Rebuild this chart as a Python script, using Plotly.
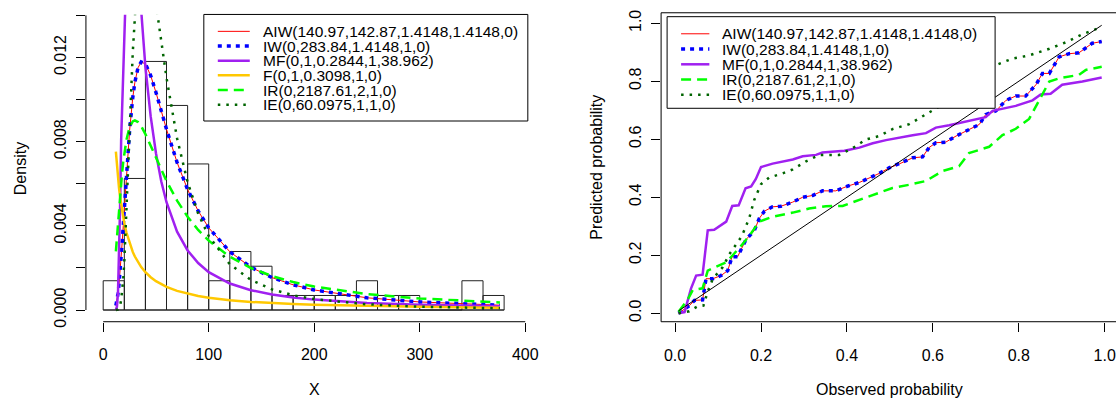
import plotly.graph_objects as go

W, H = 1116, 403
FONT = "Liberation Sans, Arial, sans-serif"

# ---------------- Left panel data ----------------
bin_edges = [0, 20, 40, 60, 80, 100, 120, 140, 160, 180, 200, 220, 240, 260, 280, 300, 320, 340, 360, 380]
hist_density = [0.00139, 0.00625, 0.01181, 0.00972, 0.00694, 0.00139, 0.00278, 0.00208, 0.00069, 0.00069,
                 0.00069, 0.00069, 0.00139, 0.00069, 0.00069, 0.0, 0.0, 0.00139, 0.00069]

x_grid = [12, 13, 14, 15, 16, 17, 18, 19, 20, 22, 25, 28, 30, 33, 36, 40, 45, 50, 55, 60, 70, 80, 90, 100,
          120, 140, 160, 180, 200, 250, 300, 350, 376]
dens_aiw = [0.000215, 0.000438, 0.000775, 0.001236, 0.001806, 0.002474, 0.003217, 0.004008, 0.004821, 0.006416,
            0.008523, 0.010090, 0.010820, 0.011514, 0.011782, 0.011696, 0.011140, 0.010340, 0.009461, 0.008590,
            0.007014, 0.005727, 0.004709, 0.003905, 0.002767, 0.002032, 0.001540, 0.001197, 0.000952, 0.000580,
            0.000383, 0.000269, 0.000228]
dens_iw = [0.000215, 0.000438, 0.000775, 0.001236, 0.001806, 0.002474, 0.003217, 0.004008, 0.004821, 0.006416,
           0.008523, 0.010090, 0.010820, 0.011514, 0.011782, 0.011696, 0.011140, 0.010340, 0.009461, 0.008590,
           0.007014, 0.005727, 0.004709, 0.003905, 0.002767, 0.002032, 0.001540, 0.001197, 0.000952, 0.000580,
           0.000383, 0.000269, 0.000228]
dens_mf = [0.00001, 0.000156, 0.00081, 0.00238, 0.00492, 0.00806, 0.01132, 0.01430, 0.01676, 0.01988,
           0.02092, 0.01963, 0.01826, 0.01603, 0.01394, 0.01154, 0.00920, 0.00745, 0.00612, 0.00512,
           0.00372, 0.00283, 0.00223, 0.00180, 0.00126, 0.00094, 0.000735, 0.000594, 0.000493, 0.000336,
           0.000248, 0.000193, 0.000173]
dens_f = [0.00752, 0.006854, 0.006284, 0.005795, 0.005371, 0.005000, 0.004673, 0.004383, 0.004125, 0.003681,
          0.00316, 0.00276, 0.00254, 0.002265, 0.002039, 0.001795, 0.001556, 0.001369, 0.001219, 0.001096,
          0.000908, 0.00077, 0.000666, 0.000585, 0.000467, 0.000385, 0.000326, 0.000282, 0.000247, 0.000187,
          0.000149, 0.000122, 0.000112]
dens_ir = [0.00279, 0.003491, 0.004192, 0.00486, 0.005487, 0.006062, 0.006579, 0.007043, 0.007445, 0.008083,
           0.008688, 0.00896, 0.009007, 0.008929, 0.008735, 0.00836, 0.007806, 0.007227, 0.006662, 0.006131,
           0.005198, 0.00443, 0.003805, 0.003295, 0.002529, 0.001996, 0.001612, 0.001328, 0.001112, 0.000756,
           0.000547, 0.000413, 0.000362]
dens_ie = [0.0, 0.000005, 0.000023, 0.000078, 0.000208, 0.00046, 0.000877, 0.00149, 0.002305, 0.004475,
           0.008456, 0.012238, 0.014254, 0.01633, 0.01734, 0.01742, 0.0163, 0.01459, 0.01276, 0.011032,
           0.008163, 0.006071, 0.004581, 0.003516, 0.002175, 0.001426, 0.000981, 0.000701, 0.000518, 0.00027,
           0.000158, 0.0001, 0.000081]

# ---------------- Right panel data (P-P plot) ----------------
pp_x_aiw = [0.008, 0.020, 0.033, 0.045, 0.064, 0.072, 0.088, 0.107, 0.1225, 0.1326, 0.1456, 0.165, 0.184, 0.196,
            0.208, 0.227, 0.2465, 0.2735, 0.297, 0.320, 0.343, 0.374, 0.401, 0.429, 0.452, 0.475, 0.498, 0.522,
            0.553, 0.576, 0.591, 0.607, 0.630, 0.654, 0.708, 0.723, 0.747, 0.770, 0.793, 0.816, 0.840, 0.855,
            0.871, 0.894, 0.917, 0.940, 0.971, 0.993]
pp_y_aiw = [0.0, 0.012, 0.026, 0.044, 0.046, 0.119, 0.119, 0.130, 0.147, 0.195, 0.195, 0.254, 0.284, 0.327,
            0.352, 0.367, 0.369, 0.383, 0.400, 0.406, 0.422, 0.422, 0.438, 0.451, 0.466, 0.482, 0.501, 0.515,
            0.536, 0.539, 0.571, 0.588, 0.590, 0.611, 0.651, 0.685, 0.698, 0.734, 0.749, 0.749, 0.788, 0.827,
            0.827, 0.884, 0.895, 0.898, 0.931, 0.937]
pp_x_iw = pp_x_aiw
pp_y_iw = pp_y_aiw
pp_x_mf = [0.008, 0.022, 0.037, 0.049, 0.064, 0.076, 0.091, 0.119, 0.133, 0.148, 0.164, 0.177, 0.188, 0.200,
           0.227, 0.250, 0.274, 0.297, 0.328, 0.343, 0.394, 0.429, 0.460, 0.491, 0.522, 0.553, 0.584, 0.607,
           0.638, 0.661, 0.708, 0.723, 0.739, 0.793, 0.832, 0.851, 0.874, 0.901, 0.948, 0.979, 0.993]
pp_y_mf = [0.0, 0.004, 0.085, 0.130, 0.133, 0.286, 0.288, 0.316, 0.370, 0.372, 0.431, 0.437, 0.463, 0.504,
           0.516, 0.524, 0.530, 0.541, 0.546, 0.554, 0.560, 0.571, 0.586, 0.597, 0.606, 0.614, 0.621, 0.640,
           0.648, 0.656, 0.670, 0.676, 0.698, 0.715, 0.734, 0.754, 0.757, 0.788, 0.799, 0.810, 0.813]
pp_x_ir = [0.008, 0.029, 0.041, 0.064, 0.076, 0.095, 0.119, 0.134, 0.157, 0.177, 0.196, 0.227, 0.274, 0.312,
           0.351, 0.390, 0.429, 0.467, 0.506, 0.545, 0.584, 0.622, 0.661, 0.684, 0.731, 0.762, 0.793, 0.824,
           0.847, 0.871, 0.894, 0.940, 0.956, 0.993]
pp_y_ir = [0.005, 0.046, 0.080, 0.086, 0.147, 0.159, 0.176, 0.200, 0.238, 0.276, 0.316, 0.333, 0.347, 0.361,
           0.369, 0.370, 0.390, 0.410, 0.432, 0.443, 0.456, 0.490, 0.507, 0.552, 0.574, 0.614, 0.636, 0.670,
           0.732, 0.799, 0.810, 0.822, 0.839, 0.850]
pp_x_ie = [0.008, 0.033, 0.053, 0.066, 0.076, 0.088, 0.111, 0.126, 0.142, 0.155, 0.165, 0.173, 0.184, 0.192,
           0.200, 0.219, 0.250, 0.274, 0.305, 0.336, 0.382, 0.413, 0.444, 0.475, 0.506, 0.545, 0.584, 0.630,
           0.661, 0.700, 0.731, 0.747, 0.785, 0.824, 0.871, 0.909, 0.948, 0.979, 0.993]
pp_y_ie = [0.0, 0.007, 0.024, 0.026, 0.075, 0.119, 0.159, 0.203, 0.237, 0.265, 0.300, 0.330, 0.390, 0.420,
           0.445, 0.468, 0.482, 0.496, 0.524, 0.546, 0.546, 0.569, 0.599, 0.611, 0.635, 0.652, 0.686, 0.726,
           0.766, 0.794, 0.827, 0.856, 0.878, 0.889, 0.912, 0.934, 0.962, 0.979, 0.987]

labels_left = ["AIW(140.97,142.87,1.4148,1.4148,0)", "IW(0,283.84,1.4148,1,0)", "MF(0,1,0.2844,1,38.962)",
               "F(0,1,0.3098,1,0)", "IR(0,2187.61,2,1,0)", "IE(0,60.0975,1,1,0)"]
labels_right = ["AIW(140.97,142.87,1.4148,1.4148,0)", "IW(0,283.84,1.4148,1,0)", "MF(0,1,0.2844,1,38.962)",
                "IR(0,2187.61,2,1,0)", "IE(0,60.0975,1,1,0)"]

left_xticks = [0, 100, 200, 300, 400]
left_yticks = [0.0, 0.002, 0.004, 0.006, 0.008, 0.010, 0.012, 0.014]
left_ytext = ["0.000", "", "0.004", "", "0.008", "", "0.012", ""]
right_ticks = [0.0, 0.2, 0.4, 0.6, 0.8, 1.0]
right_ticktext = ["0.0", "0.2", "0.4", "0.6", "0.8", "1.0"]

# ---------------- Styles ----------------
STY = {
    "AIW": dict(color="#FF0000", width=1, dash="solid"),
    "IW": dict(color="#0000FF", width=3.5, dash="4px,5px"),
    "MF": dict(color="#A020F0", width=2.5, dash="solid"),
    "F": dict(color="#FFC800", width=2.5, dash="solid"),
    "IR": dict(color="#00FF00", width=2.5, dash="10px,6px"),
    "IE": dict(color="#006400", width=2.5, dash="2.5px,6px"),
}


def px_x(p):
    return p / W


def px_y(p):
    return 1 - p / H


fig = go.Figure()

centers = [(bin_edges[i] + bin_edges[i + 1]) / 2 for i in range(len(hist_density))]
widths = [bin_edges[i + 1] - bin_edges[i] for i in range(len(hist_density))]
fig.add_trace(go.Bar(x=centers, y=hist_density, width=widths, xaxis="x", yaxis="y",
                     marker=dict(color="rgba(0,0,0,0)", line=dict(color="#222222", width=1)),
                     showlegend=False))

for key, ys in [("AIW", dens_aiw), ("IW", dens_iw), ("MF", dens_mf), ("F", dens_f), ("IR", dens_ir), ("IE", dens_ie)]:
    fig.add_trace(go.Scatter(x=x_grid, y=ys, mode="lines", line=STY[key], xaxis="x", yaxis="y",
                             showlegend=False))

# reference diagonal over observed probability range
obs_range = [pp_x_aiw[0], pp_x_aiw[-1]]
for key, xs, ys in [("AIW", pp_x_aiw, pp_y_aiw), ("IW", pp_x_iw, pp_y_iw), ("MF", pp_x_mf, pp_y_mf),
                    ("IR", pp_x_ir, pp_y_ir), ("IE", pp_x_ie, pp_y_ie)]:
    fig.add_trace(go.Scatter(x=xs, y=ys, mode="lines", line=STY[key], xaxis="x2", yaxis="y2",
                             showlegend=False))
fig.add_trace(go.Scatter(x=obs_range, y=obs_range, mode="lines", line=dict(color="#000000", width=1),
                         xaxis="x2", yaxis="y2", showlegend=False))

tickfont = dict(family=FONT, size=16, color="#000000")
axis_common = dict(showgrid=False, zeroline=False, showline=False, ticks="outside", ticklen=9,
                   tickwidth=1, tickcolor="#000000", tickfont=tickfont, ticklabeloverflow="allow")

L_DOM_X = [px_x(86), px_x(544)]
L_DOM_Y = [px_y(326), px_y(12)]
R_DOM_X = [px_x(661.7), 1.0]
R_DOM_Y = [px_y(326), px_y(10)]

fig.update_layout(
    width=W, height=H, margin=dict(l=0, r=0, t=0, b=0),
    paper_bgcolor="white", plot_bgcolor="white", showlegend=False,
    font=dict(family=FONT, size=16, color="#000000"),
    xaxis=dict(domain=L_DOM_X, range=[-16.383, 417.33], tickvals=left_xticks, anchor="y",
               ticklabelstandoff=9, **axis_common),
    yaxis=dict(domain=L_DOM_Y, range=[-0.000557, 0.01403], tickvals=left_yticks, ticktext=left_ytext,
               tickangle=-90, anchor="x", ticklabelstandoff=4, **axis_common),
    xaxis2=dict(domain=R_DOM_X, range=[-0.03256, 1.02395], tickvals=right_ticks, ticktext=right_ticktext,
                anchor="y2", ticklabelstandoff=10, **axis_common),
    yaxis2=dict(domain=R_DOM_Y, range=[-0.0293, 1.0361], tickvals=right_ticks, ticktext=right_ticktext,
                tickangle=-90, anchor="x2", ticklabelstandoff=4, **axis_common),
)

shapes = []
# left axis lines (span first to last tick, R style)
shapes.append(dict(type="line", xref="x", yref="paper", x0=left_xticks[0], x1=left_xticks[-1],
                   y0=L_DOM_Y[0], y1=L_DOM_Y[0], line=dict(color="#000000", width=1)))
shapes.append(dict(type="line", xref="paper", yref="y", x0=L_DOM_X[0], x1=L_DOM_X[0],
                   y0=left_yticks[0], y1=left_yticks[-1], line=dict(color="#000000", width=1)))
# histogram baseline
shapes.append(dict(type="line", xref="x", yref="y", x0=bin_edges[0], x1=bin_edges[-1], y0=0, y1=0,
                   line=dict(color="#222222", width=1)))
# right box
shapes.append(dict(type="rect", xref="paper", yref="paper", x0=R_DOM_X[0], x1=1.01, y0=R_DOM_Y[0],
                   y1=R_DOM_Y[1], line=dict(color="#000000", width=1), fillcolor="rgba(0,0,0,0)"))

annotations = []
LEG_FONT = dict(family=FONT, size=15.5, color="#000000")


def add_legend(box, rows, keys, labels, line_x, text_x):
    shapes.append(dict(type="rect", xref="paper", yref="paper", x0=px_x(box[0]), x1=px_x(box[2]),
                       y0=px_y(box[3]), y1=px_y(box[1]), line=dict(color="#000000", width=1),
                       fillcolor="white"))
    for ry, k, lab in zip(rows, keys, labels):
        st = STY[k]
        shapes.append(dict(type="line", xref="paper", yref="paper", x0=px_x(line_x[0]), x1=px_x(line_x[1]),
                           y0=px_y(ry), y1=px_y(ry),
                           line=dict(color=st["color"], width=st["width"], dash=st["dash"])))
        annotations.append(dict(xref="paper", yref="paper", x=px_x(text_x), y=px_y(ry), text=lab,
                                showarrow=False, xanchor="left", yanchor="middle", borderpad=0,
                                font=LEG_FONT))


add_legend((204, 11.7, 528.3, 120.7), [29, 44, 59, 74, 89, 104], ["AIW", "IW", "MF", "F", "IR", "IE"],
           labels_left, (218, 250), 262)
add_legend((667.7, 14, 996, 107.7), [31.5, 47.1, 62.7, 78.3, 93.9], ["AIW", "IW", "MF", "IR", "IE"],
           labels_right, (681.7, 710), 721.5)

# axis titles
annotations.append(dict(xref="paper", yref="paper", x=px_x(315), y=px_y(395), text="X", showarrow=False,
                        xanchor="center", yanchor="middle", font=dict(family=FONT, size=16, color="#000000")))
annotations.append(dict(xref="paper", yref="paper", x=px_x(20), y=px_y(169), text="Density", showarrow=False,
                        textangle=-90, xanchor="center", yanchor="middle",
                        font=dict(family=FONT, size=16, color="#000000")))
annotations.append(dict(xref="paper", yref="paper", x=px_x(890.7), y=px_y(395), text="Observed probability",
                        showarrow=False, xanchor="center", yanchor="middle",
                        font=dict(family=FONT, size=16, color="#000000")))
annotations.append(dict(xref="paper", yref="paper", x=px_x(597), y=px_y(168), text="Predicted probability",
                        showarrow=False, textangle=-90, xanchor="center", yanchor="middle",
                        font=dict(family=FONT, size=16, color="#000000")))

fig.update_layout(shapes=shapes, annotations=annotations)
fig.write_html("out.html")
